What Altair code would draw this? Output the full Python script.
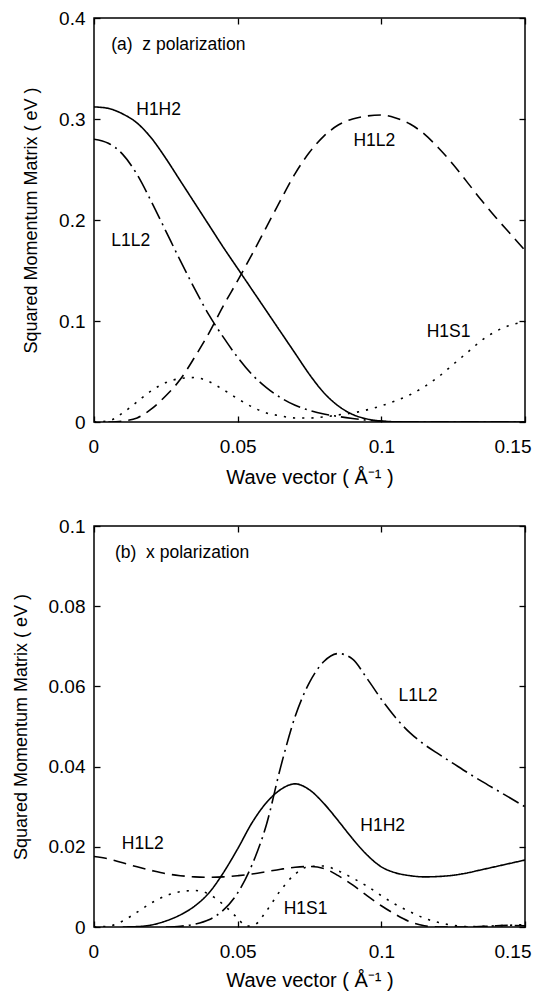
import altair as alt
import pandas as pd

FONT = "Liberation Sans"

# ---------------- Panel (a): z polarization ----------------
A_H1H2_X = [0, 0.005, 0.01, 0.015, 0.02, 0.025, 0.03, 0.035, 0.04, 0.045, 0.05, 0.055, 0.06,
            0.065, 0.07, 0.075, 0.08, 0.085, 0.09, 0.095, 0.1, 0.105, 0.11, 0.15]
A_H1H2_Y = [0.312, 0.3105, 0.305, 0.296, 0.281, 0.261, 0.239, 0.217, 0.195, 0.173, 0.152, 0.131,
            0.110, 0.089, 0.068, 0.047, 0.029, 0.016, 0.0075, 0.003, 0.001, 0.0002, 0.0, 0.0]

A_L1L2_X = [0, 0.005, 0.01, 0.015, 0.02, 0.025, 0.03, 0.035, 0.04, 0.045, 0.05, 0.055, 0.06,
            0.065, 0.07, 0.075, 0.08, 0.085, 0.09, 0.095, 0.1, 0.105, 0.11, 0.15]
A_L1L2_Y = [0.280, 0.276, 0.265, 0.245, 0.218, 0.189, 0.160, 0.132, 0.106, 0.084, 0.064, 0.047,
            0.034, 0.024, 0.0165, 0.0115, 0.008, 0.0055, 0.0035, 0.0018, 0.0006, 0.0001, 0.0, 0.0]

A_H1L2_X = [0.005, 0.01, 0.015, 0.02, 0.025, 0.03, 0.035, 0.04, 0.045, 0.05, 0.055, 0.06, 0.065,
            0.07, 0.075, 0.08, 0.085, 0.09, 0.095, 0.1, 0.105, 0.11, 0.115, 0.12, 0.125, 0.13,
            0.135, 0.14, 0.145, 0.15]
A_H1L2_Y = [0.0, 0.001, 0.004, 0.013, 0.026, 0.042, 0.064, 0.088, 0.115, 0.140, 0.166, 0.193, 0.220,
            0.246, 0.267, 0.283, 0.294, 0.300, 0.303, 0.304, 0.301, 0.295, 0.285, 0.271, 0.255, 0.237,
            0.219, 0.202, 0.186, 0.170]

A_H1S1_X = [0, 0.005, 0.01, 0.015, 0.02, 0.025, 0.03, 0.035, 0.04, 0.045, 0.05, 0.055, 0.06, 0.065,
            0.07, 0.075, 0.08, 0.085, 0.09, 0.095, 0.1, 0.105, 0.11, 0.115, 0.12, 0.125, 0.13,
            0.135, 0.14, 0.145, 0.15]
A_H1S1_Y = [0.0, 0.001, 0.009, 0.020, 0.031, 0.039, 0.043, 0.044, 0.040, 0.032, 0.023, 0.015, 0.009,
            0.006, 0.004, 0.004, 0.005, 0.007, 0.009, 0.012, 0.016, 0.021, 0.027, 0.035, 0.045, 0.057,
            0.069, 0.081, 0.090, 0.096, 0.099]

A_LABELS = ["(a)\u00a0 z polarization", "H1H2", "H1L2", "L1L2", "H1S1"]
A_LABEL_X = [0.006, 0.0147, 0.0903, 0.006, 0.1158]
A_LABEL_Y = [0.3735, 0.309, 0.278, 0.179, 0.089]

# ---------------- Panel (b): x polarization ----------------
B_H1H2_X = [0.01, 0.015, 0.02, 0.025, 0.03, 0.035, 0.04, 0.045, 0.05, 0.055, 0.06, 0.065, 0.07,
            0.075, 0.08, 0.085, 0.09, 0.095, 0.1, 0.105, 0.11, 0.115, 0.12, 0.125, 0.13, 0.135,
            0.14, 0.145, 0.15]
B_H1H2_Y = [0.0, 0.0001, 0.0005, 0.0015, 0.003, 0.0052, 0.0085, 0.0135, 0.0195, 0.026, 0.031, 0.0343,
            0.0357, 0.0342, 0.0308, 0.0265, 0.022, 0.018, 0.015, 0.0135, 0.0128, 0.0125, 0.0126,
            0.0129, 0.0135, 0.0143, 0.0151, 0.0159, 0.0167]

B_L1L2_X = [0.025, 0.03, 0.035, 0.04, 0.045, 0.05, 0.055, 0.06, 0.065, 0.07, 0.075, 0.08, 0.085,
            0.09, 0.095, 0.1, 0.105, 0.11, 0.115, 0.12, 0.125, 0.13, 0.135, 0.14, 0.145, 0.15]
B_L1L2_Y = [0.0, 0.0002, 0.0007, 0.0018, 0.0042, 0.0085, 0.0155, 0.0255, 0.040, 0.0525, 0.061, 0.0662,
            0.0682, 0.0668, 0.062, 0.0568, 0.0522, 0.0484, 0.0455, 0.0431, 0.0408, 0.0385, 0.0363,
            0.0342, 0.0321, 0.030]

B_H1L2_X = [0, 0.005, 0.01, 0.015, 0.02, 0.025, 0.03, 0.035, 0.04, 0.045, 0.05, 0.055, 0.06, 0.065,
            0.07, 0.075, 0.08, 0.085, 0.09, 0.095, 0.1, 0.105, 0.11, 0.115, 0.12, 0.13, 0.14, 0.145,
            0.15]
B_H1L2_Y = [0.0176, 0.0170, 0.0160, 0.0150, 0.0141, 0.0133, 0.0128, 0.0125, 0.0124, 0.0125, 0.0128,
            0.0132, 0.0138, 0.0144, 0.0149, 0.0151, 0.0146, 0.0128, 0.0105, 0.0078, 0.0053, 0.0031,
            0.0013, 0.0003, 0.0, 0.0, 0.0003, 0.0004, 0.0003]

B_H1S1_X = [0, 0.005, 0.01, 0.015, 0.02, 0.025, 0.03, 0.035, 0.04, 0.045, 0.05, 0.053, 0.056, 0.06,
            0.065, 0.07, 0.075, 0.08, 0.085, 0.09, 0.095, 0.1, 0.105, 0.11, 0.115, 0.12, 0.125,
            0.13, 0.14, 0.15]
B_H1S1_Y = [0.0, 0.0002, 0.0015, 0.0037, 0.006, 0.0078, 0.0088, 0.0091, 0.0082, 0.0056, 0.0022,
            0.0002, 0.0006, 0.0040, 0.0092, 0.0132, 0.0151, 0.0152, 0.0140, 0.0122, 0.0102, 0.0078,
            0.0056, 0.0038, 0.0022, 0.0011, 0.0004, 0.0001, 0.0003, 0.0006]

B_LABELS = ["(b)\u00a0 x polarization", "L1L2", "H1H2", "H1L2", "H1S1"]
B_LABEL_X = [0.0073, 0.106, 0.0927, 0.0097, 0.066]
B_LABEL_Y = [0.0932, 0.0575, 0.0251, 0.0208, 0.0045]

X_TICKS = [0, 0.05, 0.1, 0.15]
A_Y_TICKS = [0, 0.1, 0.2, 0.3, 0.4]
B_Y_TICKS = [0, 0.02, 0.04, 0.06, 0.08, 0.1]

SERIES = ["H1H2", "H1L2", "L1L2", "H1S1"]
DASHES = [[1, 0], [13, 7], [18, 5, 2, 5], [2.2, 7]]

X_TITLE = "Wave vector ( Å⁻¹ )"
Y_TITLE = "Squared Momentum Matrix ( eV )"


def long_df(series):
    rows = []
    for name, xs, ys in series:
        for xv, yv in zip(xs, ys):
            rows.append({"k": xv, "m": yv, "s": name})
    return pd.DataFrame(rows)


def label_df(texts, xs, ys):
    return pd.DataFrame({"t": texts, "k": xs, "m": ys})


W = 431
TICK = 6


def panel(df, ldf, ymax, yticks, height, x_title_pad):
    xs = alt.Scale(domain=[0, 0.15], nice=False, zero=False)
    ys = alt.Scale(domain=[0, ymax], nice=False, zero=False)
    common = dict(domain=False, grid=False, tickColor="black", tickWidth=1.3,
                  tickSize=TICK, offset=-TICK, labelFont=FONT, labelFontSize=19,
                  labelColor="black", titleFont=FONT,
                  titleFontWeight="normal", titleColor="black")
    lines = alt.Chart(df).mark_line(color="black", strokeWidth=1.6,
                                    interpolate="monotone", clip=True).encode(
        x=alt.X("k:Q", scale=xs,
                axis=alt.Axis(values=X_TICKS, format=".2~g", labelPadding=15,
                              labelFlush=True, labelFlushOffset=6,
                              titlePadding=x_title_pad, titleFontSize=20, **common),
                title=X_TITLE),
        y=alt.Y("m:Q", scale=ys,
                axis=alt.Axis(values=yticks, format=".2~g", labelPadding=9,
                              labelFlush=False, titlePadding=18, titleFontSize=18,
                              **common),
                title=Y_TITLE),
        strokeDash=alt.StrokeDash("s:N", scale=alt.Scale(domain=SERIES, range=DASHES),
                                  legend=None),
        detail="s:N",
    )
    texts = alt.Chart(ldf).mark_text(align="left", baseline="middle", font=FONT,
                                     fontSize=17.5, color="black").encode(
        x=alt.X("k:Q", scale=xs,
                axis=alt.Axis(values=X_TICKS, orient="top", labels=False, minExtent=0,
                              **common),
                title=None),
        y=alt.Y("m:Q", scale=ys,
                axis=alt.Axis(values=yticks, orient="right", labels=False, minExtent=0,
                              **common),
                title=None),
        text="t:N",
    )
    return alt.layer(lines, texts).resolve_axis(x="independent", y="independent").properties(
        width=W, height=height)


top = panel(
    long_df([("H1H2", A_H1H2_X, A_H1H2_Y), ("H1L2", A_H1L2_X, A_H1L2_Y),
             ("L1L2", A_L1L2_X, A_L1L2_Y), ("H1S1", A_H1S1_X, A_H1S1_Y)]),
    label_df(A_LABELS, A_LABEL_X, A_LABEL_Y), 0.4, A_Y_TICKS, 404, 11)

bottom = panel(
    long_df([("H1H2", B_H1H2_X, B_H1H2_Y), ("H1L2", B_H1L2_X, B_H1L2_Y),
             ("L1L2", B_L1L2_X, B_L1L2_Y), ("H1S1", B_H1S1_X, B_H1S1_Y)]),
    label_df(B_LABELS, B_LABEL_X, B_LABEL_Y), 0.1, B_Y_TICKS, 401, 9)

chart = alt.vconcat(top, bottom, spacing=28).properties(
    padding={"left": 3, "top": 0, "right": 0, "bottom": 0},
    background="white",
).configure_view(stroke="black", strokeWidth=1.5)

chart.save("out.html", embed_options={"renderer": "svg", "actions": False})
